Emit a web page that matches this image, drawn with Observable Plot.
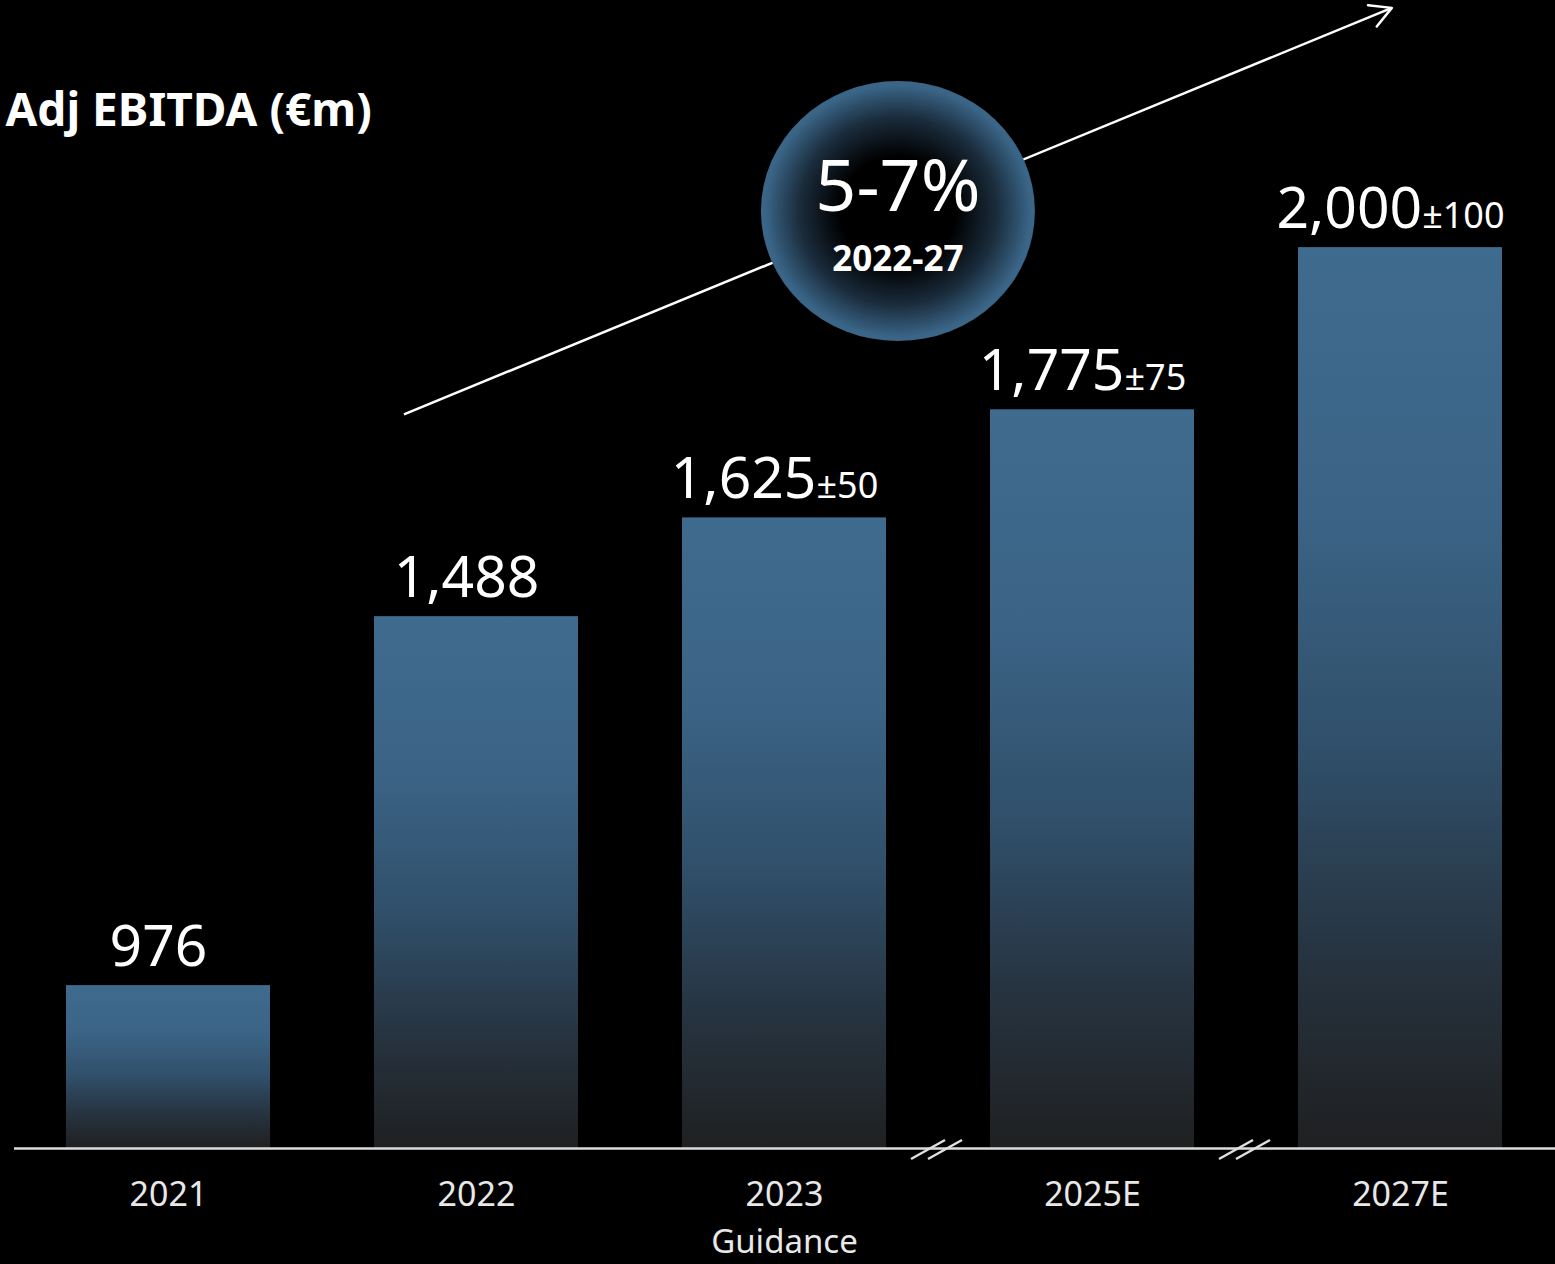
<!DOCTYPE html>
<html><head><meta charset="utf-8">
<script src="https://cdn.jsdelivr.net/npm/d3@7"></script>
<script src="https://cdn.jsdelivr.net/npm/@observablehq/plot@0.6"></script>
<style>html,body{margin:0;padding:0;background:#000;} #chart{width:1555px;height:1264px;}</style>
</head><body><div id="chart"></div>
<script>
// ---- data ----
const years = ["2021", "2022", "2023", "2025E", "2027E"];
const values = [976, 1488, 1625, 1775, 2000];
const valueLabels = ["976", "1,488", "1,625", "1,775", "2,000"];
const rangeLabels = ["", "", "±50", "±75", "±100"];
const subLabels = ["", "", "Guidance", "", ""];
const breakAfter = ["2023", "2025E"];
const title = "Adj EBITDA (€m)";
const cagrText = "5-7%";
const cagrPeriod = "2022-27";
// trend arrow: start/end as (category, fraction of band, value)
const trendYears = ["2022", "2027E"];
const trendFracs = [0.147, 0.46];
const trendValues = [1768, 2332];
const yBase = 750, yTop = 2200;

const data = years.map((year, i) => ({year, value: values[i], label: valueLabels[i], range: rangeLabels[i], sub: subLabels[i]}));

const font = "'Noto Sans', sans-serif";
const plot = Plot.plot({
  width: 1555, height: 1264,
  marginTop: 103, marginBottom: 116, marginLeft: 14, marginRight: 0,
  style: {background: "#000", color: "#fff", fontFamily: font},
  x: {domain: years, paddingInner: 0.337, paddingOuter: 0.1685, label: null},
  y: {domain: [yBase, yTop], axis: null},
  marks: [
    Plot.barY(data, {x: "year", y1: yBase, y2: "value", fill: "url(#barGrad)"}),
    Plot.ruleY([yBase], {stroke: "#dcdcdc", strokeWidth: 2.5}),
    Plot.axisX({tickSize: 0, tickPadding: 33, fontSize: 34, fill: "#e8e8e8", label: null}),
    Plot.text(data.filter(d => d.sub), {x: "year", text: "sub", frameAnchor: "bottom", lineAnchor: "bottom", dy: 104, fontSize: 33, fill: "#e8e8e8"}),
    Plot.text(data, {x: "year", y: "value", text: "label", lineAnchor: "bottom", dy: -20, dx: -10, fontSize: 57, fill: "#fff"}),
    Plot.text([title], {frameAnchor: "top-left", text: d => d, textAnchor: "start", lineAnchor: "bottom", dx: -9, dy: 22, fontSize: 46, fontWeight: "bold", fill: "#fff"})
  ]
});
document.getElementById("chart").appendChild(plot);

const svg = d3.select(plot);
const defs = svg.insert("defs", ":first-child");
const lg = defs.append("linearGradient").attr("id", "barGrad").attr("x1", 0).attr("y1", 0).attr("x2", 0).attr("y2", 1);
[[0, "#3f6b8f"], [0.3, "#3b6385"], [0.55, "#30506b"], [0.8, "#26323e"], [1, "#1f2021"]]
  .forEach(([o, c]) => lg.append("stop").attr("offset", o).attr("stop-color", c));
const rg = defs.append("radialGradient").attr("id", "bubbleGrad").attr("cx", 0.5).attr("cy", 0.5).attr("r", 0.5);
[[0, "#000"], [0.42, "#000"], [0.72, "#1a2c3c"], [0.97, "#3a6587"], [1, "#3a6587"]]
  .forEach(([o, c]) => rg.append("stop").attr("offset", o).attr("stop-color", c));

// range suffixes as smaller tspans
svg.selectAll("text").each(function () {
  const t = this.textContent;
  const i = valueLabels.indexOf(t);
  if (i >= 0 && rangeLabels[i] && this.childElementCount === 0) {
    d3.select(this).append("tspan").attr("font-size", 36).text(rangeLabels[i]);
  }
});

const xs = plot.scale("x"), ys = plot.scale("y");
const bw = xs.bandwidth;
const deco = svg.append("g").attr("aria-label", "annotations");

// axis break marks
const baseY = ys.apply(yBase);
breakAfter.forEach(yr => {
  const i = years.indexOf(yr);
  const c = (xs.apply(years[i]) + bw + xs.apply(years[i + 1])) / 2;
  [[-27, 7], [-10, 24]].forEach(([a, b]) => {
    deco.append("line").attr("x1", c + a).attr("y1", baseY + 11).attr("x2", c + b).attr("y2", baseY - 8)
      .attr("stroke", "#e0e0e0").attr("stroke-width", 2.5);
  });
});

// trend arrow
const x1 = xs.apply(trendYears[0]) + trendFracs[0] * bw, y1 = ys.apply(trendValues[0]);
const x2 = xs.apply(trendYears[1]) + trendFracs[1] * bw, y2 = ys.apply(trendValues[1]);
deco.append("line").attr("x1", x1).attr("y1", y1).attr("x2", x2).attr("y2", y2).attr("stroke", "#fff").attr("stroke-width", 2.5);
const ang = Math.atan2(y2 - y1, x2 - x1);
const head = 24, spread = 0.5;
deco.append("path")
  .attr("d", `M${x2 + head * Math.cos(ang + Math.PI - spread)},${y2 + head * Math.sin(ang + Math.PI - spread)}L${x2},${y2}L${x2 + head * Math.cos(ang + Math.PI + spread)},${y2 + head * Math.sin(ang + Math.PI + spread)}`)
  .attr("fill", "none").attr("stroke", "#fff").attr("stroke-width", 2.5).attr("stroke-linecap", "round").attr("stroke-linejoin", "round");

// CAGR bubble at the arrow midpoint
const cx = (x1 + x2) / 2, cy = (y1 + y2) / 2;
deco.append("ellipse").attr("cx", cx).attr("cy", cy).attr("rx", 137).attr("ry", 130).attr("fill", "url(#bubbleGrad)");
deco.append("text").attr("x", cx).attr("y", cy).attr("text-anchor", "middle").attr("fill", "#fff")
  .attr("font-size", 72).attr("font-family", font).text(cagrText);
deco.append("text").attr("x", cx).attr("y", cy + 60).attr("text-anchor", "middle").attr("fill", "#fff")
  .attr("font-size", 35).attr("font-weight", "bold").attr("font-family", font).text(cagrPeriod);
</script>
</body></html>
